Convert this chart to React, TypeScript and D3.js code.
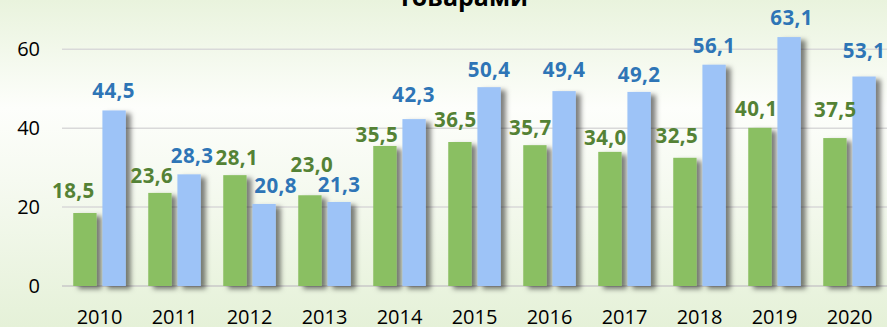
import React from "react";
import * as d3 from "d3";

// Years and the two series shown for each year
const years = ["2010", "2011", "2012", "2013", "2014", "2015", "2016", "2017", "2018", "2019", "2020"];
const seriesA = [18.5, 23.6, 28.1, 23.0, 35.5, 36.5, 35.7, 34.0, 32.5, 40.1, 37.5];
const seriesB = [44.5, 28.3, 20.8, 21.3, 42.3, 50.4, 49.4, 49.2, 56.1, 63.1, 53.1];
const yTicks = [0, 20, 40, 60];
const titleText = "товарами";

// Hand-placed label nudges (px): horizontal shift and gap above the bar top
const labelShiftA = [-11.5, -8, 2, 2, -8, -4.5, -4.5, -4.5, -8, -3.5, 0.5];
const labelGapA = [15, 10, 10, 23, 4, 15, 10, 7, 15, 12, 21];
const labelShiftB = [-0.5, 3, 11.5, 0, -0.5, 0, 0, 0, 0, 2.5, 0];
const labelGapB = [12, 11, 11, 10, 17, 10, 14, 10, 12, 12, 19];

const W = 887;
const H = 327;
const FONT = "'Open Sans', 'Noto Sans', sans-serif";

const COLOR_A = "#8abf62";
const COLOR_B = "#9dc3f7";
const LABEL_A = "#548235";
const LABEL_B = "#2e75b6";

export default function App() {
  const x = d3.scaleBand<string>().domain(years).range([62, 887]).paddingInner(0.3).paddingOuter(0.15);
  const sub = d3.scaleBand<string>().domain(["a", "b"]).range([0, x.bandwidth()]).paddingInner(0.2);
  const y = d3.scaleLinear().domain([0, 60]).range([286, 49.3]);

  const fmt = (v: number) => v.toFixed(1).replace(".", ",");

  const series = [
    { key: "a", values: seriesA, fill: COLOR_A, label: LABEL_A, shift: labelShiftA, gap: labelGapA },
    { key: "b", values: seriesB, fill: COLOR_B, label: LABEL_B, shift: labelShiftB, gap: labelGapB },
  ];

  return (
    <>
      <style>{"body{margin:0}"}</style>
      <svg width={W} height={H} style={{ display: "block" }}>
        <defs>
          <linearGradient id="bg" x1="0" y1="0" x2="0" y2="1">
            <stop offset="0%" stopColor="#e9f3dd" />
            <stop offset="33%" stopColor="#fdfefb" />
            <stop offset="55%" stopColor="#f6faf1" />
            <stop offset="100%" stopColor="#e5f1d8" />
          </linearGradient>
          <filter id="shadow" x="-40%" y="-10%" width="200%" height="130%">
            <feDropShadow dx="5" dy="3" stdDeviation="2.8" floodColor="#000" floodOpacity="0.5" />
          </filter>
        </defs>
        <rect x={0} y={0} width={W} height={H} fill="url(#bg)" />

        <text x={463} y={6} textAnchor="middle" fontFamily={FONT} fontWeight="bold" fontSize={25} fill="#000">
          {titleText}
        </text>

        {yTicks.map((t) => (
          <g key={t}>
            <line
              x1={62}
              x2={887}
              y1={y(t)}
              y2={y(t)}
              stroke={t === 0 ? "#c9c9c9" : "#d9d9d9"}
              strokeWidth={1.5}
            />
            <text x={40} y={y(t) + 7} textAnchor="end" fontFamily={FONT} fontSize={20} fill="#000">
              {t}
            </text>
          </g>
        ))}

        {series.map((s) => (
          <g key={s.key} filter="url(#shadow)">
            {years.map((yr, i) => (
              <rect
                key={yr}
                x={(x(yr) ?? 0) + (sub(s.key) ?? 0)}
                y={y(s.values[i])}
                width={sub.bandwidth()}
                height={y(0) - y(s.values[i])}
                fill={s.fill}
              />
            ))}
          </g>
        ))}

        {series.map((s) => (
          <g key={s.key + "-lbl"}>
            {years.map((yr, i) => (
              <text
                key={yr}
                x={(x(yr) ?? 0) + (sub(s.key) ?? 0) + sub.bandwidth() / 2 + s.shift[i]}
                y={y(s.values[i]) - s.gap[i]}
                textAnchor="middle"
                fontFamily={FONT}
                fontWeight="bold"
                fontSize={20.5}
                letterSpacing={0.4}
                fill={s.label}
              >
                {fmt(s.values[i])}
              </text>
            ))}
          </g>
        ))}

        {years.map((yr) => (
          <text
            key={yr}
            x={(x(yr) ?? 0) + x.bandwidth() / 2}
            y={324}
            textAnchor="middle"
            fontFamily={FONT}
            fontSize={20}
            fill="#000"
          >
            {yr}
          </text>
        ))}
      </svg>
    </>
  );
}
